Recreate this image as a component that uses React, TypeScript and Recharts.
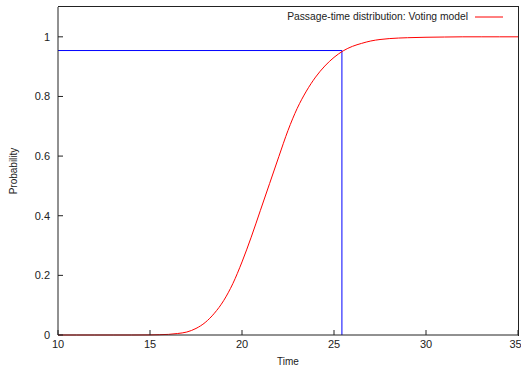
import { LineChart, Line, XAxis, YAxis, ReferenceLine } from "recharts";

// Passage-time CDF
const times = [10, 11, 12, 13, 14, 15, 15.5, 16, 16.5, 17, 17.5, 18, 18.5, 19, 19.5, 20, 20.5, 21, 21.5, 22, 22.5, 23, 23.5, 24, 24.5, 25, 25.5, 26, 26.5, 27, 27.5, 28, 29, 30, 31, 32, 33, 34, 35];
const probs = [0, 0, 0, 0, 0, 0.0003, 0.001, 0.002, 0.005, 0.01, 0.022, 0.042, 0.073, 0.115, 0.172, 0.245, 0.328, 0.418, 0.508, 0.598, 0.686, 0.76, 0.818, 0.865, 0.902, 0.931, 0.953, 0.968, 0.978, 0.986, 0.991, 0.994, 0.997, 0.9985, 0.9993, 1, 1, 1, 1];

const xTicks = [10, 15, 20, 25, 30, 35];
const yTicks = [0, 0.2, 0.4, 0.6, 0.8, 1];
const xDomain = [10, 35];
const yDomain = [0, 1.1];

// quantile marker (blue lines)
const markerTime = 25.43;
const markerProb = 0.954;

const seriesName = "Passage-time distribution: Voting model";

const data = times.map((t, i) => ({ t, p: probs[i] }));

const FONT = "'Liberation Sans', Arial, sans-serif";
const AXIS = "#222";

export default function App() {
  return (
    <div style={{ position: "absolute", left: 0, top: 0, width: 521, height: 367, background: "#fff" }}>
      <LineChart width={521} height={367} data={data} margin={{ top: 7, right: 3, bottom: 0, left: 0 }}>
        <XAxis
          dataKey="t"
          type="number"
          domain={xDomain}
          ticks={xTicks}
          height={32}
          stroke={AXIS}
          tickSize={-5}
          tickMargin={10}
          tick={{ fill: "#222", fontSize: 11, fontFamily: FONT }}
          label={{ value: "Time", position: "insideBottom", offset: 2, fill: "#222", fontSize: 10, fontFamily: FONT }}
        />
        <YAxis
          type="number"
          domain={yDomain}
          ticks={yTicks}
          width={58}
          stroke={AXIS}
          tickSize={-5}
          tickMargin={13}
          tick={{ fill: "#222", fontSize: 11, fontFamily: FONT }}
          label={{ value: "Probability", angle: -90, position: "insideLeft", offset: 13, fill: "#222", fontSize: 10, fontFamily: FONT, style: { textAnchor: "middle" } }}
        />
        <ReferenceLine
          segment={[{ x: xDomain[0], y: markerProb }, { x: markerTime, y: markerProb }]}
          stroke="#0000ff"
          strokeWidth={1}
          ifOverflow="visible"
        />
        <ReferenceLine
          segment={[{ x: markerTime, y: yDomain[0] }, { x: markerTime, y: markerProb }]}
          stroke="#0000ff"
          strokeWidth={1}
          ifOverflow="visible"
        />
        <Line
          dataKey="p"
          name={seriesName}
          type="monotone"
          stroke="#ff0000"
          strokeWidth={1}
          dot={false}
          activeDot={false}
          isAnimationActive={false}
        />
      </LineChart>
      {/* top and right sides of the plot frame */}
      <div
        style={{
          position: "absolute",
          left: 58,
          top: 6,
          width: 460,
          height: 329,
          borderTop: `1px solid ${AXIS}`,
          borderRight: `1px solid ${AXIS}`,
          pointerEvents: "none",
        }}
      />
      {/* legend, top right inside the frame */}
      <div
        style={{
          position: "absolute",
          top: 11,
          right: 18,
          display: "flex",
          alignItems: "center",
          fontFamily: FONT,
          fontSize: 10.3,
          color: "#222",
        }}
      >
        <span>{seriesName}</span>
        <svg width={28} height={10} style={{ marginLeft: 7 }}>
          <line x1={0} y1={5} x2={28} y2={5} stroke="#ff0000" strokeWidth={1} />
        </svg>
      </div>
    </div>
  );
}
